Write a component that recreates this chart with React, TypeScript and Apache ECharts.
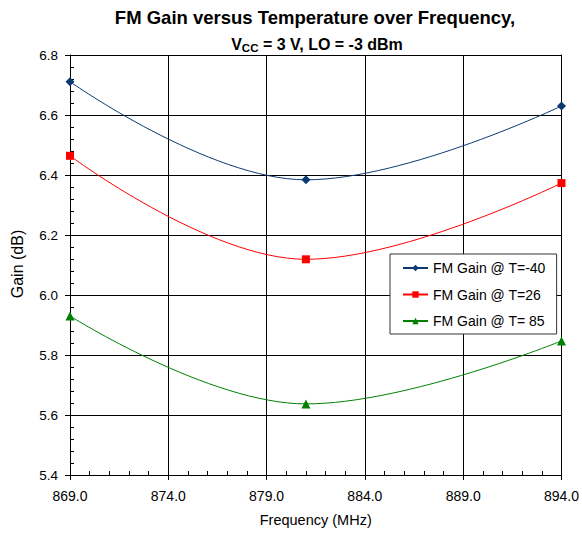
import React, { useEffect, useRef } from "react";
import * as echarts from "echarts";

const freqs = [869, 881, 894];
const gainM40 = [6.711, 6.384, 6.63];
const gain26 = [6.464, 6.119, 6.373];
const gain85 = [5.93, 5.637, 5.847];
const seriesNames = ["FM Gain @ T=-40", "FM Gain @ T=26", "FM Gain @ T= 85"];
const FONT = "Arial, 'Liberation Sans', sans-serif";

export default function App() {
  const ref = useRef<HTMLDivElement>(null);
  useEffect(() => {
    const chart = echarts.init(ref.current!, null, { renderer: "svg" });
    const mk = (arr: number[]) => arr.map((v, i) => [freqs[i], v]);
    const baseAxisX = { type: "value", min: 869, max: 894, interval: 5 };
    const baseAxisY = { type: "value", min: 5.4, max: 6.8, interval: 0.2 };
    chart.setOption({
      animation: false,
      backgroundColor: "#fff",
      textStyle: { fontFamily: FONT },
      title: [
        {
          text: "FM Gain versus Temperature over Frequency,",
          left: 310,
          top: 3,
          textAlign: "center",
          textStyle: { fontFamily: FONT, fontSize: 18.5, fontWeight: "bold", color: "#000" },
        },
        {
          text: "{b|V}{s|CC}{b| = 3 V, LO = -3 dBm}",
          left: 312,
          top: 29,
          textAlign: "center",
          textStyle: {
            rich: {
              b: { fontFamily: FONT, fontSize: 16, fontWeight: "bold", color: "#000", lineHeight: 20 },
              s: { fontFamily: FONT, fontSize: 11.5, fontWeight: "bold", color: "#000", lineHeight: 20, padding: [7, 0, 0, 0] },
            },
          },
        },
      ],
      grid: { left: 70, right: 18, top: 55, bottom: 59, show: false },
      xAxis: [
        {
          ...baseAxisX,
          name: "Frequency (MHz)",
          nameLocation: "middle",
          nameGap: 37,
          nameTextStyle: { fontFamily: FONT, fontSize: 14.5, color: "#000" },
          axisLine: { show: true, lineStyle: { color: "#000", width: 1 } },
          axisTick: { show: true, length: 5, lineStyle: { color: "#000" } },
          axisLabel: {
            fontFamily: FONT,
            fontSize: 14,
            color: "#000",
            margin: 14,
            formatter: (v: number) => v.toFixed(1),
          },
          splitLine: { show: true, lineStyle: { color: "#000", width: 1 } },
        },
        {
          ...baseAxisX,
          position: "bottom",
          axisLine: { show: false },
          axisLabel: { show: false },
          axisTick: { show: false, inside: true },
          minorTick: { show: true, splitNumber: 5, length: 4, lineStyle: { color: "#000" } },
          splitLine: { show: false },
        },
        {
          ...baseAxisX,
          position: "top",
          axisLine: { show: true, lineStyle: { color: "#000" } },
          axisLabel: { show: false },
          axisTick: { show: false },
          splitLine: { show: false },
        },
      ],
      yAxis: [
        {
          ...baseAxisY,
          axisLine: { show: true, lineStyle: { color: "#000", width: 1 } },
          axisTick: { show: true, length: 5, lineStyle: { color: "#000" } },
          axisLabel: {
            fontFamily: FONT,
            fontSize: 13.5,
            color: "#000",
            margin: 12,
            formatter: (v: number) => v.toFixed(1),
          },
          splitLine: { show: true, lineStyle: { color: "#000", width: 1 } },
        },
        {
          ...baseAxisY,
          position: "left",
          axisLine: { show: false },
          axisLabel: { show: false },
          axisTick: { show: false, inside: true },
          minorTick: { show: true, splitNumber: 5, length: 4, lineStyle: { color: "#000" } },
          splitLine: { show: false },
        },
        {
          ...baseAxisY,
          position: "right",
          axisLine: { show: true, lineStyle: { color: "#000" } },
          axisLabel: { show: false },
          axisTick: { show: false },
          splitLine: { show: false },
        },
      ],
      legend: {
        orient: "vertical",
        left: 390,
        top: 254,
        itemWidth: 25,
        itemHeight: 8,
        itemGap: 12.5,
        padding: [7, 11, 6, 12],
        backgroundColor: "#fff",
        borderColor: "#333",
        borderWidth: 1,
        textStyle: { fontFamily: FONT, fontSize: 14, color: "#000" },
        data: seriesNames,
      },
      graphic: [
        {
          type: "text",
          x: 17,
          y: 264,
          rotation: Math.PI / 2,
          style: {
            text: "Gain (dB)",
            fontFamily: FONT,
            fontSize: 16,
            fill: "#000",
            align: "center",
            verticalAlign: "middle",
          },
        },
      ],
      series: [
        {
          name: seriesNames[0],
          type: "line",
          smooth: 0.4,
          data: mk(gainM40),
          symbol: "diamond",
          symbolSize: 9,
          color: "#0B3A73",
          lineStyle: { width: 1, color: "#0B3A73" },
          itemStyle: { color: "#0B3A73" },
        },
        {
          name: seriesNames[1],
          type: "line",
          smooth: 0.4,
          data: mk(gain26),
          symbol: "rect",
          symbolSize: 8,
          color: "#FF0000",
          lineStyle: { width: 1, color: "#FF0000" },
          itemStyle: { color: "#FF0000" },
        },
        {
          name: seriesNames[2],
          type: "line",
          smooth: 0.4,
          data: mk(gain85),
          symbol: "triangle",
          symbolSize: 9,
          color: "#008000",
          lineStyle: { width: 1, color: "#008000" },
          itemStyle: { color: "#008000" },
        },
      ],
    });
    return () => chart.dispose();
  }, []);
  return <div ref={ref} style={{ width: 582, height: 534, position: "absolute", left: 0, top: 0 }} />;
}
